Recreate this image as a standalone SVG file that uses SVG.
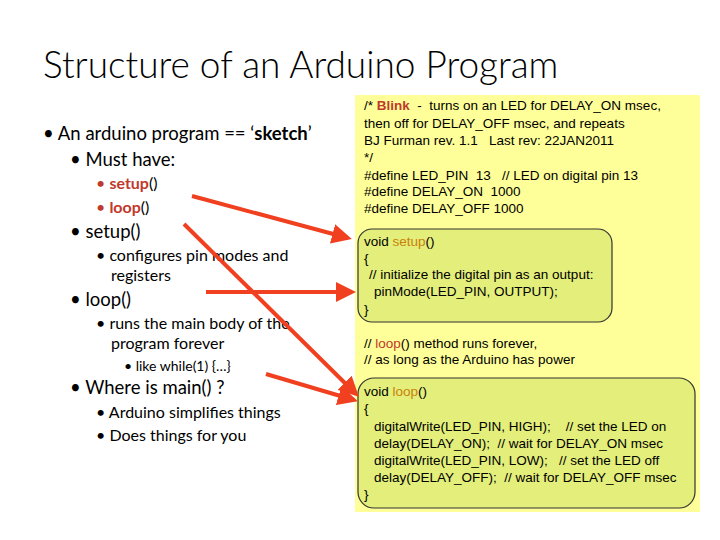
<svg xmlns="http://www.w3.org/2000/svg" width="720" height="540" viewBox="0 0 720 540">
<defs>
<style>
.t{font-family:Lato,"Open Sans",sans-serif;fill:#000}
.c{font-family:"Liberation Sans",Arial,sans-serif;font-size:13.5px;fill:#000}
.box{fill:#e3ee7b;stroke:#333;stroke-width:1.2}
.arr{stroke:#f04020;stroke-width:4;fill:none;marker-end:url(#ah)}
</style>
<marker id="ah" viewBox="0 0 10 10" refX="8" refY="5" markerWidth="5" markerHeight="5" orient="auto"><path d="M0,0L10,5L0,10z" fill="#f04020"/></marker>
</defs>
<rect width="720" height="540" fill="#fff"/>
<text class="t" x="43" y="78" font-size="37" font-weight="300">Structure of an Arduino Program</text>
<g id="bullets">
<text class="t" font-size="18.5"><tspan x="43" y="140">• An arduino program == ‘<tspan font-weight="bold">sketch</tspan>’</tspan><tspan x="70" y="166">• Must have:</tspan><tspan x="70" y="238">• setup()</tspan><tspan x="70" y="306">• loop()</tspan><tspan x="70" y="394">• Where is main() ?</tspan></text>
<text class="t" font-size="16"><tspan x="96" y="189" fill="#c0392b">• <tspan font-weight="bold">setup</tspan><tspan fill="#000">()</tspan></tspan><tspan x="96" y="213" fill="#c0392b">• <tspan font-weight="bold">loop</tspan><tspan fill="#000">()</tspan></tspan><tspan x="96" y="261">• configures pin modes and</tspan><tspan x="111" y="281">registers</tspan><tspan x="96" y="329">• runs the main body of the</tspan><tspan x="111" y="349">program forever</tspan><tspan x="96" y="418">• Arduino simplifies things</tspan><tspan x="96" y="441">• Does things for you</tspan></text>
<text class="t" font-size="14"><tspan x="124" y="371">• like while(1) {…}</tspan></text>
</g>
<g id="code">
<rect x="355" y="95" width="345" height="417" fill="#ffff99"/>
<text class="c"><tspan x="364" y="110">/* <tspan font-weight="bold" fill="#c0392b">Blink</tspan> &#160;- &#160;turns on an LED for DELAY_ON msec,</tspan><tspan x="364" y="128">then off for DELAY_OFF msec, and repeats</tspan><tspan x="364" y="145">BJ Furman rev. 1.1 &#160; Last rev: 22JAN2011</tspan><tspan x="364" y="162">*/</tspan><tspan x="364" y="180">#define LED_PIN &#160;13 &#160; // LED on digital pin 13</tspan><tspan x="364" y="196">#define DELAY_ON &#160;1000</tspan><tspan x="364" y="213">#define DELAY_OFF 1000</tspan><tspan x="364" y="348">// <tspan fill="#c0392b">loop</tspan>() method runs forever,</tspan><tspan x="364" y="364">// as long as the Arduino has power</tspan></text>
</g>
<g id="setup">
<rect class="box" x="358" y="229" width="254" height="93" rx="14"/>
<text class="c"><tspan x="364" y="246">void <tspan fill="#c9820a">setup</tspan>()</tspan><tspan x="364" y="263">{</tspan><tspan x="369" y="279">// initialize the digital pin as an output:</tspan><tspan x="374" y="296">pinMode(LED_PIN, OUTPUT);</tspan><tspan x="364" y="314">}</tspan></text>
</g>
<g id="loop">
<rect class="box" x="358" y="378" width="337" height="130" rx="16"/>
<text class="c"><tspan x="364" y="396">void <tspan fill="#c9820a">loop</tspan>()</tspan><tspan x="364" y="413">{</tspan><tspan x="374" y="431">digitalWrite(LED_PIN, HIGH); &#160; &#160;// set the LED on</tspan><tspan x="374" y="448">delay(DELAY_ON); &#160;// wait for DELAY_ON msec</tspan><tspan x="374" y="465">digitalWrite(LED_PIN, LOW); &#160; // set the LED off</tspan><tspan x="374" y="482">delay(DELAY_OFF); &#160;// wait for DELAY_OFF msec</tspan><tspan x="364" y="499">}</tspan></text>
</g>
<g id="connectors">
<line class="arr" x1="192" y1="196" x2="348" y2="238"/>
<line class="arr" x1="206" y1="292" x2="352" y2="292"/>
<line class="arr" x1="184" y1="224" x2="356" y2="394"/>
<line class="arr" x1="266" y1="374" x2="354" y2="400"/>
</g>
</svg>
